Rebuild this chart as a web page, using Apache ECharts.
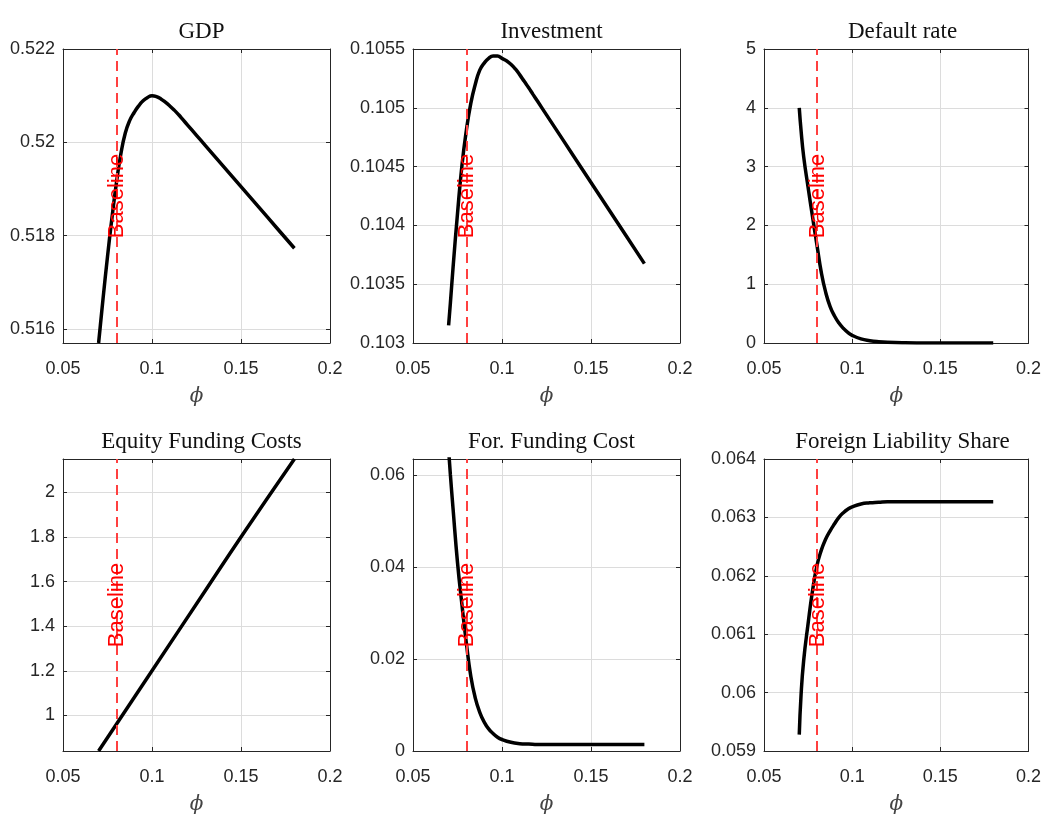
<!DOCTYPE html>
<html><head><meta charset="utf-8">
<script src="https://cdn.jsdelivr.net/npm/echarts@6/dist/echarts.min.js"></script>
<style>html,body{margin:0;padding:0;background:#fff}#c{width:1044px;height:816px}</style>
</head><body><div id="c"></div>
<script>
// ---- data ----
const phiGrid = [0.07,0.071,0.0725,0.075,0.0775,0.08,0.0825,0.085,0.0875,0.09,0.0925,0.095,0.0975,0.1,0.105,0.11,0.115,0.12,0.13,0.14,0.15,0.16,0.17,0.18];
const peakPhi = [0.07,0.071,0.0725,0.075,0.0775,0.08,0.0825,0.085,0.0875,0.09,0.0925,0.095,0.0975,0.1,0.1025,0.105,0.1075,0.11,0.1125,0.115,0.1175,0.12,0.125,0.13,0.14,0.15,0.16,0.17,0.18];
const gdp = [0.51570,0.51608,0.51665,0.51755,0.51838,0.51913,0.51975,0.52020,0.52047,0.52064,0.52078,0.52089,0.52096,0.52100,0.52098,0.52093,0.52086,0.52078,0.52069,0.52059,0.52048,0.52037,0.52015,0.51993,0.51949,0.51905,0.51861,0.51817,0.51773];
const investment = [0.10315,0.10334,0.10364,0.10410,0.10451,0.10481,0.10504,0.10520,0.10532,0.10538,0.10542,0.10544,0.10544,0.10542,0.10540,0.10537,0.10533,0.10528,0.105225,0.10517,0.105112,0.105055,0.10494,0.104825,0.104595,0.104365,0.104135,0.103905,0.103675];
const defaultRate = [4.0,3.62,3.17,2.65,2.15,1.67,1.2,0.86,0.62,0.46,0.34,0.25,0.18,0.13,0.07,0.04,0.022,0.012,0.004,0.0015,0.0005,0.0002,0.0001,0.0001];
const equityPhi = [0.07,0.1,0.13,0.15,0.18];
const equityCost = [0.84,1.2,1.56,1.8,2.15];
const forFunding = [0.0655,0.0601,0.0527,0.0410,0.0318,0.0234,0.0162,0.0115,0.0084,0.0063,0.0048,0.0038,0.0030,0.0025,0.0019,0.0016,0.0015,0.0014,0.0014,0.0014,0.0014,0.0014,0.0014,0.0014];
const foreignShare = [0.05928,0.05995,0.06055,0.06118,0.06174,0.06217,0.06244,0.06263,0.06277,0.06289,0.06300,0.06308,0.06314,0.06318,0.06323,0.06325,0.06326,0.06327,0.06327,0.06327,0.06327,0.06327,0.06327,0.06327];
const titles = ['GDP','Investment','Default rate','Equity Funding Costs','For. Funding Cost','Foreign Liability Share'];
const baselinePhi = 0.08;
const xRange = [0.05, 0.2];
const yRanges = [[0.5157,0.522],[0.103,0.1055],[0,5],[0.84,2.15],[0,0.0635],[0.059,0.064]];
const ySplit = [3,5,5,6,3,5];

// ---- layout ----
const colLeft = [63, 413, 764];
const rowTop = [49, 459];
const W = 267, H = 294;
const titleTop = [15, 425];

const panels = [
  {x: peakPhi, y: gdp, hideMin: true, hideMax: false},
  {x: peakPhi, y: investment, hideMin: false, hideMax: false},
  {x: phiGrid, y: defaultRate, hideMin: false, hideMax: false},
  {x: equityPhi, y: equityCost, hideMin: true, hideMax: true},
  {x: phiGrid, y: forFunding, hideMin: false, hideMax: true},
  {x: phiGrid, y: foreignShare, hideMin: false, hideMax: false}
];

const axisColor = '#262626';
const grids = [], xAxes = [], yAxes = [], series = [], titleOpts = [];
panels.forEach((p, i) => {
  const c = i % 3, r = Math.floor(i / 3);
  grids.push({left: colLeft[c], top: rowTop[r], width: W, height: H, containLabel: false});
  titleOpts.push({text: titles[i], left: colLeft[c] + W / 2, top: titleTop[r], textAlign: 'center',
    textStyle: {fontFamily: 'Liberation Serif', fontSize: 23, fontWeight: 'normal', color: '#111'}});
  const lineCommon = {show: true, onZero: false, lineStyle: {color: axisColor, width: 1}};
  const tickCommon = {show: true, inside: true, length: 4, lineStyle: {color: axisColor, width: 1}};
  xAxes.push({type: 'value', gridIndex: i, min: xRange[0], max: xRange[1], splitNumber: 3, position: 'bottom',
    axisLine: lineCommon, axisTick: tickCommon,
    axisLabel: {color: axisColor, fontSize: 18, fontFamily: 'Liberation Sans', margin: 17},
    splitLine: {show: true, lineStyle: {color: '#dcdcdc', width: 1}},
    name: '\u03D5', nameLocation: 'middle', nameGap: 44,
    nameTextStyle: {fontFamily: 'DejaVu Serif', fontStyle: 'italic', fontSize: 20, color: '#444'}});
  xAxes.push({type: 'value', gridIndex: i, min: xRange[0], max: xRange[1], splitNumber: 3, position: 'top',
    axisLine: lineCommon, axisTick: tickCommon, axisLabel: {show: false}, splitLine: {show: false}});
  yAxes.push({type: 'value', gridIndex: i, min: yRanges[i][0], max: yRanges[i][1], splitNumber: ySplit[i], position: 'left',
    axisLine: lineCommon, axisTick: tickCommon,
    axisLabel: {color: axisColor, fontSize: 18, fontFamily: 'Liberation Sans', margin: 8,
      showMinLabel: !p.hideMin, showMaxLabel: !p.hideMax},
    splitLine: {show: true, lineStyle: {color: '#dcdcdc', width: 1}}});
  yAxes.push({type: 'value', gridIndex: i, min: yRanges[i][0], max: yRanges[i][1], splitNumber: ySplit[i], position: 'right',
    axisLine: lineCommon, axisTick: tickCommon, axisLabel: {show: false}, splitLine: {show: false}});
  series.push({type: 'line', xAxisIndex: 2 * i, yAxisIndex: 2 * i, showSymbol: false, smooth: 0.5,
    data: p.x.map((v, k) => [v, p.y[k]]), lineStyle: {color: '#000', width: 3.5}, z: 3, clip: true,
    markLine: {silent: true, symbol: 'none', animation: false,
      lineStyle: {color: '#ff4040', width: 2, type: [10, 6]},
      label: {show: true, formatter: 'Baseline', position: 'middle', color: '#ff0000', fontSize: 22,
        fontFamily: 'Liberation Sans', distance: -12},
      data: [[{coord: [baselinePhi, yRanges[i][0]]}, {coord: [baselinePhi, yRanges[i][1]]}]]}});
});

const chart = echarts.init(document.getElementById('c'), null, {renderer: 'canvas'});
chart.setOption({animation: false, backgroundColor: '#fff', title: titleOpts, grid: grids,
  xAxis: xAxes, yAxis: yAxes, series: series});
</script></body></html>
